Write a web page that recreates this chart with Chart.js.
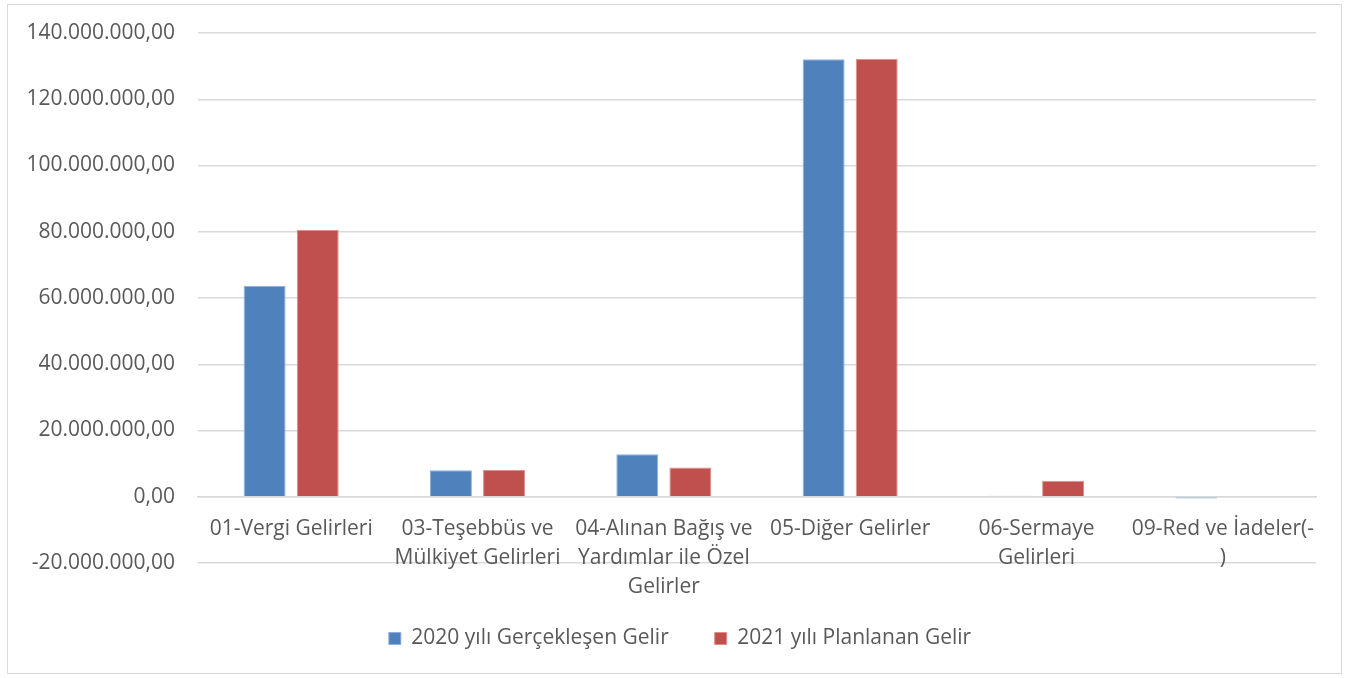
<!DOCTYPE html>
<html>
<head>
<meta charset="utf-8">
<script src="https://cdn.jsdelivr.net/npm/chart.js@4.4.0/dist/chart.umd.min.js"></script>
<style>
  html, body { margin: 0; padding: 0; background: #fff; }
  #wrap { position: absolute; left: 7px; top: 4px; width: 1335px; height: 670px; border: 1px solid #d9d9d9; box-sizing: border-box; }
  #c { position: absolute; left: 0; top: 0; }
</style>
</head>
<body>
<div id="wrap"><canvas id="c" width="1333" height="668"></canvas></div>
<script>
'use strict';

// kategoriler (çok satırlı etiketler)
const categories = [
    "01-Vergi Gelirleri",
    ["03-Teşebbüs ve", "Mülkiyet Gelirleri"],
    ["04-Alınan Bağış ve", "Yardımlar ile Özel", "Gelirler"],
    "05-Diğer Gelirler",
    ["06-Sermaye", "Gelirleri"],
    ["09-Red ve İadeler(-", ")"]
];

const gelir2020 = [63700000, 8000000, 12800000, 132100000, 300000, -500000];
const gelir2021 = [80500000, 8100000, 8800000, 132200000, 4800000, 0];

const seriesNames = ["2020 yılı Gerçekleşen Gelir", "2021 yılı Planlanan Gelir"];

const yMin = -20000000;
const yMax = 140000000;
const yStep = 20000000;

function trFormat(v) {
    let s = Math.abs(Math.round(v)).toString().replace(/\B(?=(\d{3})+(?!\d))/g, '.');
    return (v < 0 ? '-' : '') + s + ',00';
}

function noPad(scale) {
    scale.paddingTop = 0;
    scale.paddingBottom = 0;
    scale.paddingLeft = 0;
    scale.paddingRight = 0;
}

// lejanti biraz saga kaydir (orijinaldeki gibi)
const legendShift = {
    id: 'legendShift',
    afterLayout(chart) {
        chart.legend.left += 13;
        chart.legend.right += 13;
    }
};

const fontFam = "'Open Sans', sans-serif";
const textColor = '#595959';

const ctx = document.getElementById('c');
new Chart(ctx, {
    type: 'bar',
    data: {
        labels: categories,
        datasets: [{
            label: seriesNames[0],
            data: gelir2020,
            backgroundColor: '#4f81bd',
            borderColor: '#8eb0da',
            borderWidth: 1,
            categoryPercentage: 0.57,
            barPercentage: 0.79
        }, {
            label: seriesNames[1],
            data: gelir2021,
            backgroundColor: '#c0504d',
            borderColor: '#dc8f8d',
            borderWidth: 1,
            categoryPercentage: 0.57,
            barPercentage: 0.79
        }]
    },
    plugins: [legendShift],
    options: {
        responsive: false,
        animation: false,
        layout: { padding: { left: 10, right: 25, top: 28, bottom: 14 } },
        plugins: {
            tooltip: { enabled: false },
            legend: {
                position: 'bottom',
                // bos baslik: etiketlerle lejant arasinda bosluk birakir
                title: { display: true, text: ' ', font: { size: 19, lineHeight: 1 }, padding: 0 },
                labels: {
                    color: textColor,
                    font: { family: fontFam, size: 21 },
                    boxWidth: 12,
                    boxHeight: 12,
                    padding: 46,
                    useBorderRadius: false
                }
            }
        },
        scales: {
            x: {
                position: { y: 0 },
                afterFit: noPad,
                grid: { display: false, drawTicks: false },
                border: { display: true, color: '#d9d9d9', width: 1.5 },
                ticks: {
                    color: textColor,
                    font: { family: fontFam, size: 21, lineHeight: 1.38 },
                    padding: 18,
                    maxRotation: 0,
                    autoSkip: false
                }
            },
            y: {
                min: yMin,
                max: yMax,
                afterFit: (scale) => { scale.width = 180; noPad(scale); },
                grid: { color: '#d9d9d9', lineWidth: 1.5, drawTicks: false },
                border: { display: false },
                ticks: {
                    stepSize: yStep,
                    color: textColor,
                    font: { family: fontFam, size: 21 },
                    padding: 23,
                    callback: (v) => trFormat(v)
                }
            }
        }
    }
});
</script>
</body>
</html>
